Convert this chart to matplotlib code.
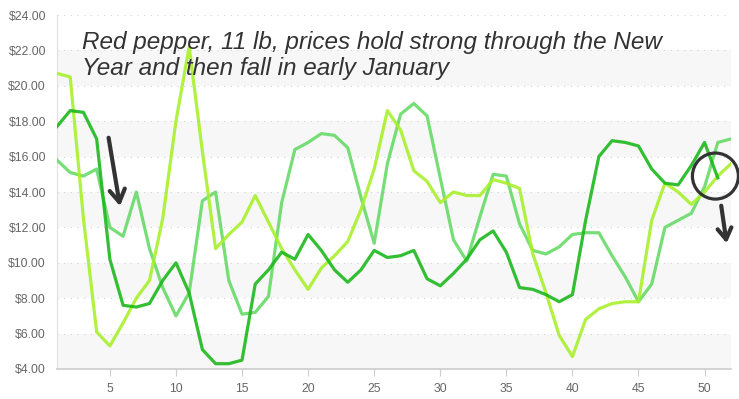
import matplotlib
matplotlib.use("Agg")
import matplotlib.pyplot as plt
from matplotlib.patches import Ellipse

weeks = list(range(1, 53))

series_dark = [17.7, 18.6, 18.5, 17.0, 10.2, 7.6, 7.5, 7.7, 9.0, 10.0,
               8.3, 5.1, 4.3, 4.3, 4.5, 8.8, 9.6, 10.6, 10.2, 11.6,
               10.7, 9.6, 8.9, 9.6, 10.7, 10.3, 10.4, 10.7, 9.1, 8.7,
               9.4, 10.2, 11.3, 11.8, 10.6, 8.6, 8.5, 8.2, 7.8, 8.2,
               12.4, 16.0, 16.9, 16.8, 16.6, 15.3, 14.5, 14.4, 15.5, 16.8,
               14.8]

series_yellow = [20.7, 20.5, 12.5, 6.1, 5.3, 6.6, 8.0, 9.0, 12.5, 18.0,
                 22.2, 16.3, 10.8, 11.6, 12.3, 13.8, 12.3, 10.8, 9.6, 8.5,
                 9.7, 10.4, 11.2, 13.0, 15.3, 18.6, 17.5, 15.2, 14.6, 13.4,
                 14.0, 13.8, 13.8, 14.7, 14.5, 14.2, 10.5, 8.3, 5.9, 4.7,
                 6.8, 7.4, 7.7, 7.8, 7.8, 12.4, 14.5, 14.0, 13.3, 14.0,
                 14.9, 15.6]

series_mid = [15.8, 15.1, 14.9, 15.3, 12.0, 11.5, 14.0, 10.8, 8.6, 7.0,
              8.3, 13.5, 14.0, 9.0, 7.1, 7.2, 8.1, 13.4, 16.4, 16.8,
              17.3, 17.2, 16.5, 13.7, 11.1, 15.6, 18.4, 19.0, 18.3, 14.8,
              11.3, 10.1, 12.6, 15.0, 14.9, 12.2, 10.7, 10.5, 10.9, 11.6,
              11.7, 11.7, 10.4, 9.2, 7.8, 8.8, 12.0, 12.4, 12.8, 14.3,
              16.8, 17.0]

y_ticks = [4, 6, 8, 10, 12, 14, 16, 18, 20, 22, 24]
x_ticks = [5, 10, 15, 20, 25, 30, 35, 40, 45, 50]
annotation = "Red pepper, 11 lb, prices hold strong through the New\nYear and then fall in early January"

plt.rcParams['font.family'] = ['Liberation Sans', 'DejaVu Sans']

fig = plt.figure(figsize=(7.39, 3.99), dpi=100)
ax = fig.add_axes([57/739, 30/399, (731-57)/739, (369-15)/399])

# alternating bands
for lo in [4, 8, 12, 16, 20]:
    ax.axhspan(lo, lo + 2, color='#f7f7f7', zorder=0, lw=0)
for yv in y_ticks:
    ax.axhline(yv, color='#d4d4d4', lw=0.8, linestyle=(0, (1, 5)), zorder=1)

ax.plot(weeks, series_mid, color='#5fd95f', lw=2.3, alpha=0.85, zorder=3,
        solid_joinstyle='round')
ax.plot(weeks, series_yellow, color='#a8f02c', lw=2.3, alpha=0.9, zorder=3,
        solid_joinstyle='round')
ax.plot(weeks[:len(series_dark)], series_dark, color='#1db81d', lw=2.3, alpha=0.9,
        zorder=4, solid_joinstyle='round')

ax.set_xlim(1, 52)
ax.set_ylim(4, 24)
ax.set_yticks(y_ticks)
ax.set_yticklabels([f"${v:.2f}" for v in y_ticks])
ax.set_xticks(x_ticks)
ax.tick_params(axis='y', length=0, pad=8, labelsize=8.8, labelcolor='#666666')
ax.tick_params(axis='x', length=5, color='#cccccc', pad=5, labelsize=8.8,
               labelcolor='#666666')

for s in ['top', 'right']:
    ax.spines[s].set_visible(False)
ax.spines['left'].set_color('#e0e0e0')
ax.spines['bottom'].set_color('#cccccc')
ax.spines['bottom'].set_linewidth(1.2)

ax.text(2.9, 21.72, annotation, fontsize=17.5, style='italic', color='#333333',
        linespacing=1.2, va='center', ha='left', zorder=6)

# left arrow
ax.annotate('', xy=(5.8, 13.05), xytext=(4.87, 17.22),
            arrowprops=dict(arrowstyle='->,head_length=0.9,head_width=0.55',
                            color='#333333', lw=3), zorder=6)
# right arrow
ax.annotate('', xy=(51.7, 10.95), xytext=(51.23, 13.38),
            arrowprops=dict(arrowstyle='->,head_length=0.8,head_width=0.5',
                            color='#333333', lw=3), zorder=6,
            annotation_clip=False)
circ = Ellipse((50.82, 14.9), width=3.48, height=2.6, fill=False,
               edgecolor='#333333', lw=2.3, zorder=6, clip_on=False)
ax.add_patch(circ)

fig.savefig('out.png', dpi=100)
